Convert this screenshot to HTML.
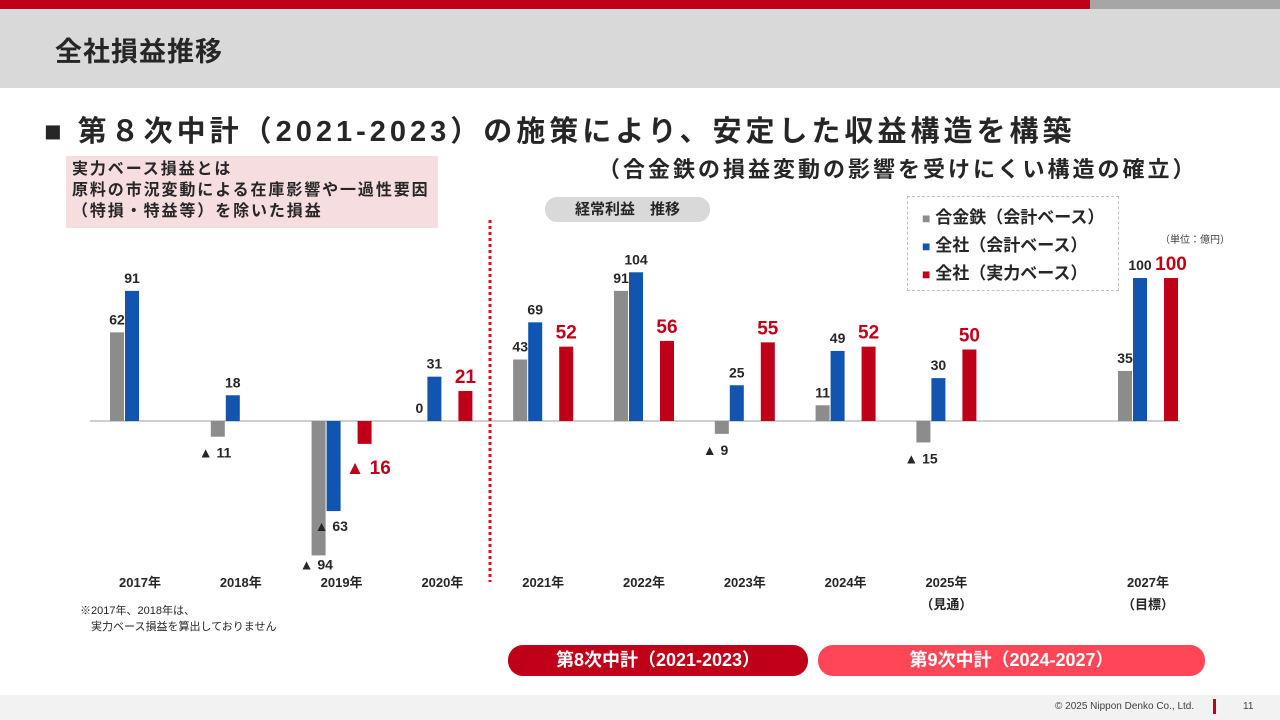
<!DOCTYPE html>
<html><head><meta charset="utf-8">
<style>
body{margin:0;width:1280px;height:720px;overflow:hidden;background:#fff;font-family:"Liberation Sans","Noto Sans CJK JP",sans-serif;position:relative}
.abs{position:absolute}
</style></head><body>
<div class="abs" style="left:0;top:0;width:1090px;height:9px;background:#c00018"></div>
<div class="abs" style="left:1090px;top:0;width:190px;height:9px;background:#a6a6a6"></div>
<div class="abs" style="left:0;top:9px;width:1280px;height:79px;background:#d9d9d9"></div>
<div class="abs" style="left:55px;top:30px;font-size:27px;font-weight:bold;color:#262626;letter-spacing:1px">全社損益推移</div>
<div class="abs" style="left:44px;top:108px;font-size:29px;font-weight:bold;color:#262626;white-space:nowrap;letter-spacing:4.0px">■ 第８次中計（2021-2023）の施策により、安定した収益構造を構築</div>
<div class="abs" style="left:598px;top:152px;font-size:22px;font-weight:bold;color:#262626;white-space:nowrap;letter-spacing:3px">（合金鉄の損益変動の影響を受けにくい構造の確立）</div>
<div class="abs" style="left:66px;top:156px;width:372px;height:72px;background:#f6dde0;font-size:16px;font-weight:bold;color:#262626;line-height:21px;padding:3px 0 0 6px;box-sizing:border-box;white-space:nowrap;letter-spacing:1.9px">実力ベース損益とは<br>原料の市況変動による在庫影響や一過性要因<br>（特損・特益等）を除いた損益</div>
<div class="abs" style="left:545px;top:197px;width:165px;height:25px;border-radius:12px;background:#d9d9d9;font-size:15px;font-weight:bold;color:#262626;text-align:center;line-height:25px">経常利益　推移</div>
<div class="abs" style="left:907px;top:196px;width:212px;height:95px;border:1px dashed #bfbfbf;box-sizing:border-box;font-size:17px;font-weight:bold;color:#262626;line-height:28px;padding:7px 0 0 14px;white-space:nowrap">
<div><span style="color:#8c8c8c;font-size:14px">■</span> 合金鉄（会計ベース）</div>
<div><span style="color:#1155b0;font-size:14px">■</span> 全社（会計ベース）</div>
<div><span style="color:#c00018;font-size:14px">■</span> 全社（実力ベース）</div>
</div>
<div class="abs" style="left:1160px;top:231px;font-size:10px;color:#404040">（単位：億円）</div>
<svg class="abs" style="left:0;top:0" width="1280" height="720" id="chart"></svg>
<div class="abs" style="left:80px;top:603px;font-size:11px;color:#262626;line-height:16px">※2017年、2018年は、<br>　実力ベース損益を算出しておりません</div>
<div class="abs" style="left:508px;top:645px;width:300px;height:31px;border-radius:15px;background:#c00018;color:#fff;font-size:18px;font-weight:bold;text-align:center;line-height:31px">第8次中計（2021-2023）</div>
<div class="abs" style="left:818px;top:645px;width:387px;height:31px;border-radius:15px;background:#ff4656;color:#fff;font-size:18px;font-weight:bold;text-align:center;line-height:31px">第9次中計（2024-2027）</div>
<div class="abs" style="left:0;top:695px;width:1280px;height:25px;background:#f2f2f2"></div>
<div class="abs" style="left:1055px;top:701px;font-size:10px;color:#404040">© 2025 Nippon Denko Co., Ltd.</div>
<div class="abs" style="left:1213px;top:699px;width:3px;height:15px;background:#c00018"></div>
<div class="abs" style="left:1243px;top:701px;font-size:10px;color:#404040">11</div>
<script>
const categories=["2017年","2018年","2019年","2020年","2021年","2022年","2023年","2024年","2025年","","2027年"];
const subLabels=["","","","","","","","","（見通）","","（目標）"];
const alloy=[62,-11,-94,0,43,91,-9,11,-15,null,35];
const totalAcc=[91,18,-63,31,69,104,25,49,30,null,100];
const totalReal=[null,null,-16,21,52,56,55,52,50,null,100];
const svg=document.getElementById('chart');
const NS='http://www.w3.org/2000/svg';
const y0=421, k=1.43, x0=140, step=100.8;
const xc=i=>x0+i*step;
const yv=v=>y0-v*k;
function mk(t,a){const e=document.createElementNS(NS,t);for(const n in a)e.setAttribute(n,a[n]);svg.appendChild(e);return e;}
const base=mk('line',{x1:90,x2:1180,y1:y0,y2:y0,stroke:'#bfbfbf','stroke-width':1.5});


const div=mk('line',{x1:490,x2:490,y1:220,y2:582,stroke:'#e0101e','stroke-width':3,'stroke-dasharray':'3,3'});


const series=[{d:alloy,off:-30,c:'#8c8c8c',n:'alloy',lc:'#262626',fs:14,nd:21},{d:totalAcc,off:-15,c:'#1155b0',n:'total-accounting',lc:'#262626',fs:14,nd:20},{d:totalReal,off:16,c:'#c00018',n:'total-underlying',lc:'#c00018',fs:19,nd:30}];
series.forEach(s=>{s.d.forEach((v,i)=>{if(v===null)return;
 const x=xc(i)+s.off,w=14;
 const r=mk('rect',{x:x,y:Math.min(yv(v),y0),width:w,height:Math.max(Math.abs(v*k),0.01),fill:s.c});
 
 
 let t;
 if(v>=0){t=mk('text',{x:x+w/2,y:yv(v)-8,'text-anchor':'middle','font-size':s.fs,'font-weight':'bold',fill:s.lc});t.textContent=v;}
 else{t=mk('text',{x:x-12,y:yv(v)+(v<-80?14:s.nd),'text-anchor':'start','font-size':s.fs,'font-weight':'bold',fill:s.lc});t.textContent='▲ '+(-v);}
 
 
});});
categories.forEach((c,i)=>{if(!c)return;
 const t=mk('text',{x:xc(i),y:587,'text-anchor':'middle','font-size':13,'font-weight':'bold',fill:'#262626'});t.textContent=c;
 
 
 if(subLabels[i]){const u=mk('text',{x:xc(i),y:609,'text-anchor':'middle','font-size':13,'font-weight':'bold',fill:'#262626'});u.textContent=subLabels[i];
 
 }
});
</script>
</body></html>
